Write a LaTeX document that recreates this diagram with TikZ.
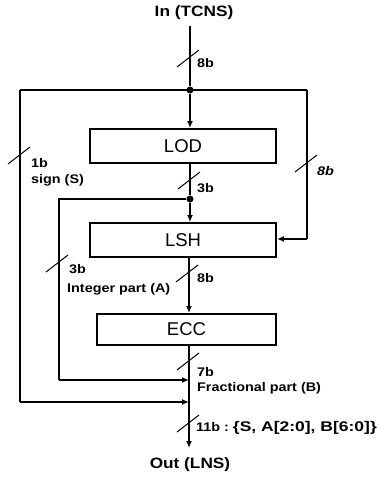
\documentclass[tikz,border=0pt]{standalone}
\usepackage{fontspec}
\setmainfont{Liberation Sans}
\newfontfamily\widebold[FakeStretch=1.15]{Liberation Sans Bold}
\newfontfamily\wideboldit[FakeStretch=1.15]{Liberation Sans Bold Italic}
\newfontfamily\widerbold[FakeStretch=1.25]{Liberation Sans Bold}
\usetikzlibrary{arrows.meta}
\begin{document}
\begin{tikzpicture}[x=1pt,y=-1pt,
  wire/.style={line width=1.6pt},
  arr/.style={wire,-{Latex[length=7pt,width=6pt]}},
  block/.style={draw,line width=2pt,minimum height=34pt,inner sep=0pt,font=\fontsize{18.5}{18.5}\selectfont},
  lbl/.style={font=\widebold\fontsize{12.5}{14}\selectfont,inner sep=0pt,anchor=base west},
  head/.style={font=\widebold\fontsize{15}{15}\selectfont,inner sep=0pt},
  slash/.style={line width=1pt},
  dot/.style={circle,fill,inner sep=0pt,minimum size=7pt}]
\useasboundingbox (0,0) rectangle (377,477);
% nodes
\node[head] (in) at (194,13) {In (TCNS)};
\coordinate (intop) at (190,26);
\node[dot] (j1) at (190,90) {};
\node[block,minimum width=186pt] (lod) at (183,146) {LOD};
\node[dot] (j2) at (190,199) {};
\node[block,minimum width=186pt] (lsh) at (183,240) {LSH};
\node[block,minimum width=179pt,minimum height=31pt] (ecc) at (186.5,329.5) {ECC};
\coordinate (eccout) at (189,345);
\coordinate (m1) at (189,380);
\coordinate (m2) at (189,402);
\coordinate (outend) at (189,448);
\node[head] (out) at (190,465) {Out (LNS)};
\coordinate (lt) at (20,90);
\coordinate (lb) at (20,402);
\coordinate (rt) at (307,90);
\coordinate (rb) at (307,239);
\coordinate (it) at (59,199);
\coordinate (ib) at (59,380);
% wires
\draw[wire] (intop) -- (j1);
\draw[arr] (j1) -- (lod.north -| j1);
\draw[wire] (lt) -- (rt);
\draw[wire] (lt) -- (lb);
\draw[arr] (lb) -- (m2);
\draw[wire] (rt) -- (rb);
\draw[arr] (rb) -- (lsh.east |- rb);
\draw[wire] (lod.south -| j2) -- (j2);
\draw[arr] (j2) -- (lsh.north -| j2);
\draw[wire] (j2) -- (it) -- (ib);
\draw[arr] (ib) -- (m1);
\draw[arr] (lsh.south -| eccout) -- (ecc.north -| eccout);
\draw[wire] (eccout) -- (m2);
\draw[arr] (m2) -- (outend);
% bus slashes
\foreach \x/\y in {189/58, 20/155, 307/163, 190/180, 58/263, 188/273, 189/361, 189/423}
  \draw[slash] (\x-12,\y+9) -- (\x+10,\y-8);
% labels
\node[lbl] (l8a) at (197,67) {8b};
\node[lbl] (l1b) at (31,167) {1b};
\node[lbl] (lsign) at (31,183) {sign (S)};
\node[lbl,font=\wideboldit\fontsize{12.5}{14}\selectfont] (l8r) at (317,175) {8b};
\node[lbl] (l3a) at (197,192) {3b};
\node[lbl] (l3b) at (69,273) {3b};
\node[lbl] (lint) at (67,292) {Integer part (A)};
\node[lbl] (l8b) at (197,282) {8b};
\node[lbl] (l7b) at (197,376) {7b};
\node[lbl] (lfrac) at (197,391) {Fractional part (B)};
\node[lbl] (l11) at (196,431) {11b\ :\ {\widerbold\fontsize{14}{14}\selectfont\{S, A[2:0], B[6:0]\}}};
\end{tikzpicture}
\end{document}
